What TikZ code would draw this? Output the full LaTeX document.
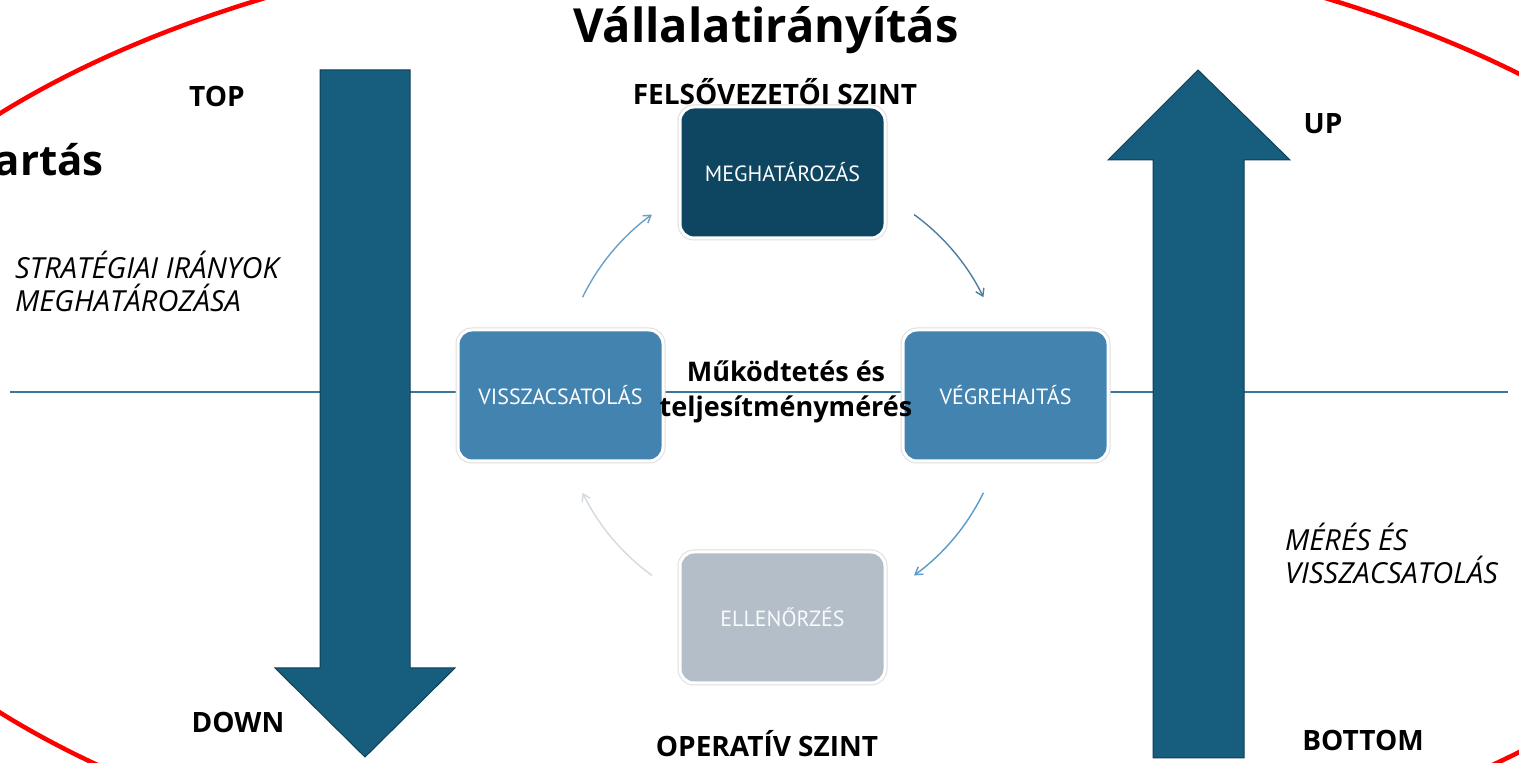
\documentclass[tikz,border=0pt]{standalone}
\usepackage{fontspec}
\setmainfont{Open Sans}
\newfontfamily\boxfont{PT Sans}
\usetikzlibrary{arrows.meta,calc}
\definecolor{arrowblue}{HTML}{175D7E}
\definecolor{arrowedge}{HTML}{0F3F55}
\definecolor{meg}{HTML}{0E4560}
\definecolor{mid}{HTML}{4383B0}
\definecolor{ell}{HTML}{B3BEC8}
\definecolor{axis}{HTML}{3A7697}
\definecolor{cycA}{HTML}{6AA0C8}
\definecolor{cycB}{HTML}{4A7F9F}
\definecolor{cycC}{HTML}{5A9AC8}
\definecolor{cycD}{HTML}{D3DBE1}
\newcommand{\fs}[1]{\fontsize{#1}{#1}\selectfont}
\begin{document}
\begin{tikzpicture}[x=1pt,y=1pt,
  stepbox/.style={rounded corners=14pt, minimum width=205pt, minimum height=131pt,
    draw=white, line width=3pt, preaction={draw=black!13, line width=5pt},
    text=white, font=\boxfont\fs{22}},
  bigarrow/.style={fill=arrowblue, draw=arrowedge, line width=1pt},
  lbl/.style={font=\bfseries\fs{28}, inner sep=0pt, anchor=base},
  ital/.style={font=\itshape\fs{29}, inner sep=0pt, align=left},
  cyc/.style={line width=1.4pt, -{Straight Barb[length=7pt,width=9pt]}}
]
\clip (0,0) rectangle (1519,763);
\fill[white] (0,0) rectangle (1519,763);

% red ellipse
\draw[red, line width=4.5pt] (795,350) ellipse [x radius=1007, y radius=488];

% horizontal axis
\coordinate (axL) at (10,371);
\coordinate (axR) at (1508,371);
\draw[axis, line width=1.3pt] (axL) -- (axR);

% big arrows
\draw[bigarrow] (320,693) -- (410,693) -- (410,95) -- (455,95) -- (365,6) -- (275,95) -- (320,95) -- cycle;
\draw[bigarrow] (1153,5) -- (1244,5) -- (1244,603) -- (1290,603) -- (1198,693) -- (1108,603) -- (1153,603) -- cycle;

% boxes
\node[stepbox, fill=meg] (meg) at (782.5,590.5) {MEGHATÁROZÁS};
\node[stepbox, fill=mid] (viss) at (560.5,367.5) {VISSZACSATOLÁS};
\node[stepbox, fill=mid] (veg) at (1005.5,367.5) {VÉGREHAJTÁS};
\node[stepbox, fill=ell, text=white!92!ell] (ell) at (782.5,145.5) {ELLENŐRZÉS};

% cycle arrows
\coordinate (cc) at (783,368);
\draw[cyc, cycA] ($(cc)+(154:223)$) arc[start angle=154, end angle=126, radius=223];
\draw[cyc, cycB] ($(cc)+(54:223)$) arc[start angle=54, end angle=26, radius=223];
\draw[cyc, cycC] ($(cc)+(-26:223)$) arc[start angle=-26, end angle=-54, radius=223];
\draw[cyc, cycD] ($(cc)+(-126:223)$) arc[start angle=-126, end angle=-154, radius=223];

% texts
\node[font=\bfseries\fs{47}, inner sep=0pt] (title) at (766,733) {Vállalatirányítás};
\node[font=\bfseries\fs{42}, inner sep=0pt, anchor=east] (side) at (104,603) {artás};
\node[lbl] (top) at (217,656) {TOP};
\node[lbl] (down) at (238,30) {DOWN};
\node[lbl] (up) at (1323,629) {UP};
\node[lbl] (bottom) at (1363,12) {BOTTOM};
\node[lbl] (felso) at (775,658) {FELSŐVEZETŐI SZINT};
\node[lbl] (oper) at (767,6) {OPERATÍV SZINT};
\node[ital, anchor=west] (strat) at (15,482) {STRATÉGIAI IRÁNYOK\\[4pt]MEGHATÁROZÁSA};
\node[ital, anchor=west] (meres) at (1285,210) {MÉRÉS ÉS\\[4pt]VISSZACSATOLÁS};
\node[font=\bfseries\fs{27}, inner sep=0pt, align=center] (mukod) at (786,371) {Működtetés és\\[8pt]teljesítménymérés};
\end{tikzpicture}
\end{document}
